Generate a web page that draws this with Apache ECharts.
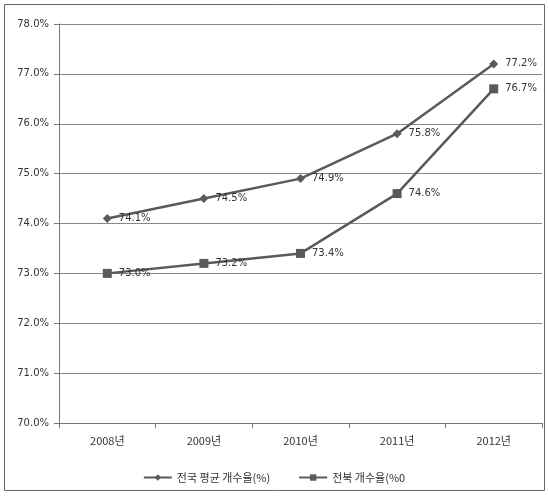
<!DOCTYPE html>
<html>
<head>
<meta charset="utf-8">
<script src="https://cdn.jsdelivr.net/npm/echarts@6/dist/echarts.min.js"></script>
<style>
  html, body { margin: 0; padding: 0; background: #fff; }
  #main { width: 548px; height: 496px; }
</style>
</head>
<body>
<div id="main"></div>
<script>
var years = ['2008년', '2009년', '2010년', '2011년', '2012년'];
var nationalName = '전국 평균 개수율(%)';
var nationalRate = [74.1, 74.5, 74.9, 75.8, 77.2];
var jeonbukName = '전북 개수율(%0';
var jeonbukRate = [73.0, 73.2, 73.4, 74.6, 76.7];

var chartDom = document.getElementById('main');
var myChart = echarts.init(chartDom);
var option;

var fontFamily = 'Noto Sans CJK KR, DejaVu Sans, sans-serif';

option = {
    animation: false,
    backgroundColor: '#fff',
    textStyle: { fontFamily: fontFamily },
    graphic: [{
        type: 'rect',
        shape: { x: 4.5, y: 4.5, width: 540, height: 486 },
        style: { fill: 'none', stroke: '#666', lineWidth: 1 },
        silent: true
    }],
    grid: {
        left: 59,
        right: 6,
        top: 24,
        bottom: 73
    },
    legend: {
        bottom: 8,
        left: 'center',
        itemWidth: 28,
        itemHeight: 8,
        itemGap: 28,
        textStyle: { color: '#333', fontSize: 11, fontFamily: fontFamily },
        data: [nationalName, jeonbukName]
    },
    xAxis: {
        type: 'category',
        data: years,
        boundaryGap: true,
        axisLine: { lineStyle: { color: '#777', width: 1 } },
        axisTick: { show: true, length: 5, lineStyle: { color: '#777' } },
        axisLabel: { color: '#333', fontSize: 11, margin: 12, fontFamily: fontFamily }
    },
    yAxis: {
        type: 'value',
        min: 70,
        max: 78,
        interval: 1,
        axisLine: { show: true, lineStyle: { color: '#777', width: 1 } },
        axisTick: { show: true, length: 5, lineStyle: { color: '#777' } },
        axisLabel: {
            color: '#333',
            fontSize: 10,
            margin: 10,
            fontFamily: 'DejaVu Sans, sans-serif',
            formatter: function (v) { return v.toFixed(1) + '%'; }
        },
        splitLine: { lineStyle: { color: '#888', width: 1 } }
    },
    series: [
        {
            name: nationalName,
            type: 'line',
            data: nationalRate,
            symbol: 'diamond',
            symbolSize: 9,
            lineStyle: { color: '#5a5a5a', width: 2.5 },
            itemStyle: { color: '#5a5a5a' },
            label: {
                show: true,
                position: 'right',
                distance: 7,
                color: '#333',
                fontSize: 10,
                fontFamily: 'DejaVu Sans, sans-serif',
                formatter: function (p) { return p.value.toFixed(1) + '%'; }
            }
        },
        {
            name: jeonbukName,
            type: 'line',
            data: jeonbukRate,
            symbol: 'rect',
            symbolSize: 9,
            lineStyle: { color: '#5a5a5a', width: 2.5 },
            itemStyle: { color: '#5a5a5a' },
            label: {
                show: true,
                position: 'right',
                distance: 7,
                color: '#333',
                fontSize: 10,
                fontFamily: 'DejaVu Sans, sans-serif',
                formatter: function (p) { return p.value.toFixed(1) + '%'; }
            }
        }
    ]
};

option && myChart.setOption(option);
</script>
</body>
</html>
